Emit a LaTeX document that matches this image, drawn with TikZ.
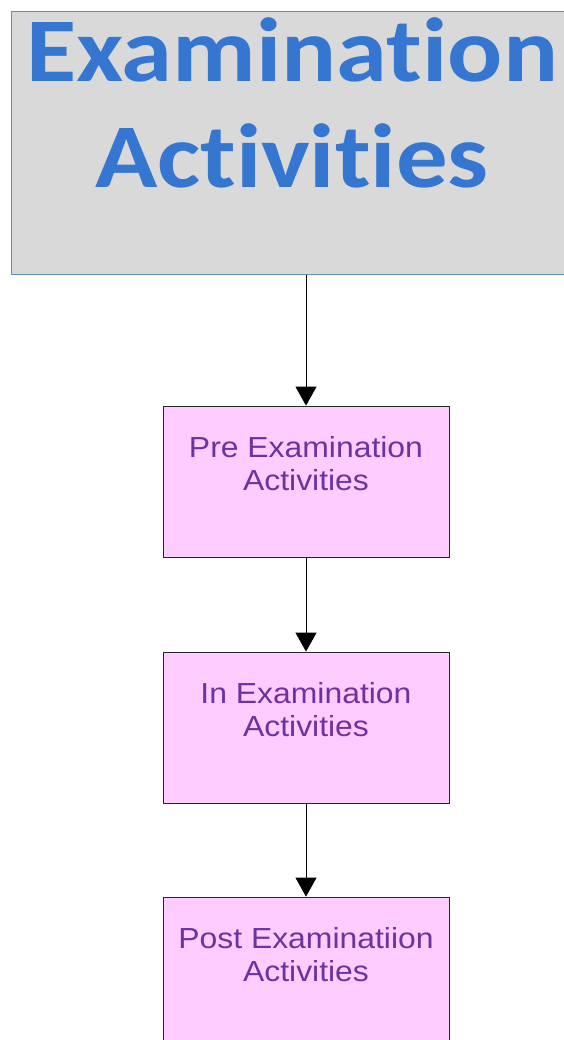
\documentclass[tikz,border=0pt]{standalone}
\usepackage{fontspec}
\setmainfont[FakeStretch=1.1]{Liberation Sans}
\newfontfamily\titlefont[FakeStretch=1.13, Ligatures=NoCommon]{Carlito}
\usetikzlibrary{arrows.meta}
\definecolor{titleblue}{RGB}{52,118,208}
\definecolor{titlegray}{RGB}{217,217,217}
\definecolor{titleedge}{RGB}{98,138,196}
\definecolor{boxpink}{RGB}{255,204,255}
\definecolor{boxpurple}{RGB}{112,48,160}
% text of a box, first baseline at a fixed depth below its top
\newcommand{\boxlines}[4]{\parbox[c][#1][t]{#2}{\centering\rule{0pt}{#3}#4}}
\tikzset{
	titlebox/.style={draw=titleedge, line width=1pt, fill=titlegray, inner sep=0pt, text=titleblue, font=\titlefont\bfseries\fontsize{91}{106}\selectfont},
	actbox/.style={draw=black!85, line width=0.8pt, fill=boxpink, inner sep=0pt, text=boxpurple, font=\fontsize{29}{33}\selectfont},
	flow/.style={-{Triangle[width=21pt,length=19pt]}, line width=0.9pt, black}
}
\begin{document}
\begin{tikzpicture}[x=1pt,y=-1pt]
	\useasboundingbox (0,0) rectangle (563,1040);
	\node[titlebox] (title) at (292,143.5) {\boxlines{263pt}{562pt}{70pt}{Examination\\Activities}};
	\node[actbox] (pre) at (306,481.5) {\boxlines{151pt}{286pt}{51pt}{Pre Examination\\Activities}};
	\node[actbox] (in) at (306,727.5) {\boxlines{151pt}{286pt}{51pt}{In Examination\\Activities}};
	\node[actbox] (post) at (306,972.5) {\boxlines{151pt}{286pt}{51pt}{Post Examinatiion\\Activities}};
	\draw[flow] (title.south -| pre.north) -- (pre.north);
	\draw[flow] (pre.south) -- (in.north);
	\draw[flow] (in.south) -- (post.north);
\end{tikzpicture}
\end{document}
